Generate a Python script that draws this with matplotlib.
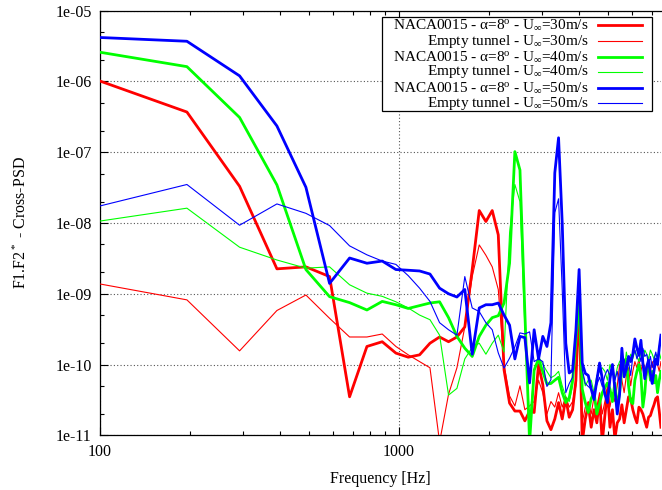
import matplotlib
matplotlib.use("Agg")
import matplotlib.pyplot as plt
from matplotlib.ticker import FixedLocator, FuncFormatter, NullFormatter
from matplotlib.patches import Rectangle

plt.rcParams["font.family"] = ["Liberation Serif", "DejaVu Serif"]
plt.rcParams["mathtext.fontset"] = "custom"
plt.rcParams["mathtext.rm"] = "Liberation Serif"
plt.rcParams["mathtext.it"] = "Liberation Serif:italic"

# FFT bins (Hz)
freq = [97.7, 195.3, 293.0, 390.6, 488.3, 585.9, 683.6, 781.3, 878.9, 976.6,
        1074.2, 1171.9, 1269.5, 1367.2, 1464.8, 1562.5, 1660.2, 1757.8, 1855.5, 1953.1,
        2050.8, 2148.4, 2246.1, 2343.8, 2441.4, 2539.1, 2636.7, 2734.4, 2832.0, 2929.7,
        3027.3, 3125.0, 3222.7, 3320.3, 3418.0, 3515.6, 3613.3, 3710.9, 3808.6, 3906.3,
        4003.9, 4101.6, 4199.2, 4296.9, 4394.5, 4492.2, 4589.8, 4687.5, 4785.2, 4882.8,
        4980.5, 5078.1, 5175.8, 5273.4, 5371.1, 5468.8, 5566.4, 5664.1, 5761.7, 5859.4,
        5957.0, 6054.7, 6152.3, 6250.0, 6347.7, 6445.3, 6543.0, 6640.6, 6738.3, 6835.9,
        6933.6, 7031.3, 7128.9, 7226.6, 7324.2, 7421.9, 7519.5]

naca30 = [1.05e-6, 3.7e-7, 3.3e-8, 2.25e-9, 2.4e-9, 1.75e-9, 3.5e-11, 1.8e-10, 2.1e-10, 1.45e-10,
          1.27e-10, 1.37e-10, 2.0e-10, 2.45e-10, 2.1e-10, 2.45e-10, 3.4e-10, 2.2e-9, 1.5e-8, 1.05e-8,
          1.5e-8, 6.8e-9, 8.4e-11, 2.85e-11, 2.2e-11, 2.2e-11, 1.6e-11, 2.2e-11, 2.1e-11, 1.0e-10,
          5.2e-11, 1.6e-11, 1.2e-11, 1.7e-11, 2.9e-11, 1.7e-11, 3.3e-11, 1.8e-11, 2.3e-11, 6e-11,
          8.3e-10, 8e-12, 1.7e-11, 2.7e-11, 1.3e-11, 2.3e-11, 1.5e-11, 3.3e-11, 8e-12, 1.9e-11,
          4.3e-11, 1.3e-11, 2.3e-11, 9e-12, 1.5e-11, 1.7e-11, 2.7e-11, 1.5e-11, 2.3e-11, 3.5e-11,
          3.3e-11, 2.3e-11, 1.8e-11, 1.5e-11, 2.5e-11, 2.3e-11, 2.0e-11, 1.6e-11, 1.3e-11, 1.8e-11,
          1.9e-11, 2.3e-11, 2.7e-11, 3.3e-11, 3.5e-11, 2.2e-11, 1.3e-11]
empty30 = [1.4e-9, 8.2e-10, 1.56e-10, 5.8e-10, 9.6e-10, 4.5e-10, 2.45e-10, 2.45e-10, 2.7e-10, 1.8e-10,
           1.37e-10, 1.1e-10, 9e-11, 8e-12, 3.8e-11, 9e-11, 3.4e-10, 1.75e-9, 4.9e-9, 3.5e-9,
           2.4e-9, 1.15e-9, 1.0e-10, 3.6e-11, 2.6e-11, 5.0e-11, 2.3e-11, 2.6e-11, 3e-11, 6e-11,
           4e-11, 2e-11, 3e-11, 2.5e-11, 4e-11, 2.5e-11, 3.5e-11, 2.5e-11, 3e-11, 5e-11,
           7e-10, 1.5e-11, 2.5e-11, 3e-11, 2e-11, 3.5e-11, 2.5e-11, 4e-11, 2e-11, 3e-11,
           5e-11, 2.5e-11, 4e-11, 3e-11, 5e-11, 1e-10, 6e-11, 4e-11, 7e-11, 9e-11,
           5e-11, 8e-11, 1.1e-10, 9e-11, 1.2e-10, 8e-11, 1.1e-10, 9e-11, 7e-11, 1e-10,
           8e-11, 1.1e-10, 9e-11, 1.2e-10, 1e-10, 8e-11, 1.1e-10]
naca40 = [2.63e-6, 1.62e-6, 3.1e-7, 3.45e-8, 2.2e-9, 9.1e-10, 7.5e-10, 5.9e-10, 7.8e-10, 7e-10,
          6.2e-10, 6.8e-10, 7.4e-10, 7.7e-10, 4.6e-10, 2.5e-10, 1.7e-10, 1.3e-10, 2.5e-10, 3.6e-10,
          4.6e-10, 4.9e-10, 7.4e-10, 2.7e-9, 1.02e-7, 5.6e-8, 5.4e-10, 8e-12, 8.3e-11, 1.2e-10,
          7.9e-11, 5.3e-11, 5.4e-11, 6e-11, 6.6e-11, 4e-11, 2.9e-11, 3.4e-11, 6e-11, 2.2e-10,
          9.1e-10, 4.5e-11, 2.9e-11, 2.1e-11, 3.3e-11, 4e-11, 2e-11, 2.8e-11, 4e-11, 4.7e-11,
          5.5e-11, 4.5e-11, 3e-11, 5.5e-11, 2.5e-11, 4e-11, 9e-11, 1.1e-10, 1.2e-10, 5e-11,
          3e-11, 2.8e-11, 6e-11, 8e-11, 1e-10, 7e-11, 2.5e-11, 4e-11, 9e-11, 1e-10,
          6e-11, 8e-11, 5.5e-11, 7e-11, 4e-11, 6e-11, 8e-11]
empty40 = [1.05e-8, 1.62e-8, 4.55e-9, 3.0e-9, 2.3e-9, 2.4e-9, 1.34e-9, 1.02e-9, 9.2e-10, 7.7e-10,
           6.3e-10, 5e-10, 4.3e-10, 2.6e-10, 3.7e-11, 4.6e-11, 1.2e-10, 1.75e-10, 2.0e-10, 1.4e-10,
           2e-10, 2.6e-10, 1.5e-10, 7.2e-9, 3.5e-8, 2e-8, 3.4e-10, 1.5e-11, 8e-11, 1.3e-10,
           1.0e-10, 8e-11, 6.5e-11, 7e-11, 8e-11, 5e-11, 3.5e-11, 3e-11, 5e-11, 2.5e-10,
           1.0e-9, 8e-11, 5e-11, 6e-11, 6e-11, 4e-11, 7e-11, 8e-11, 9e-11, 8e-11,
           6e-11, 1e-10, 8e-11, 6e-11, 9e-11, 1.1e-10, 1.2e-10, 8e-11, 1.5e-10, 1e-10,
           1.4e-10, 1.2e-10, 1.6e-10, 1.3e-10, 1.1e-10, 1.5e-10, 1.2e-10, 1.6e-10, 1.4e-10, 1.2e-10,
           1.6e-10, 1.4e-10, 1.2e-10, 1.4e-10, 1.3e-10, 1.5e-10, 1.2e-10]
naca50 = [4.2e-6, 3.7e-6, 1.2e-6, 2.35e-7, 3.2e-8, 1.4e-9, 3.2e-9, 2.7e-9, 2.9e-9, 2.2e-9,
          2.15e-9, 2.1e-9, 1.9e-9, 1.2e-9, 1.0e-9, 9.0e-10, 1.15e-9, 1.4e-10, 6.3e-10, 7.0e-10,
          7.0e-10, 7.4e-10, 5.0e-10, 3.6e-10, 1.2e-10, 2.5e-10, 2.4e-10, 5.5e-11, 3.1e-10, 1.2e-10,
          2.5e-10, 1.8e-10, 3.9e-10, 5.1e-8, 1.6e-7, 1.0e-8, 2.0e-10, 7.6e-11, 8.3e-11, 3.0e-10,
          2.2e-9, 1.05e-10, 7.5e-11, 7.0e-11, 4.5e-11, 3.2e-11, 6e-11, 1.05e-10, 6.3e-11, 3.8e-11,
          2.9e-11, 6.3e-11, 1.0e-10, 4.6e-11, 2.0e-11, 3.8e-11, 1.7e-10, 6.7e-11, 8.7e-11, 1.3e-10,
          1.1e-10, 1.4e-10, 2.3e-10, 1.7e-10, 1.35e-10, 2.2e-10, 1.05e-10, 6.3e-11, 9.4e-11, 1.15e-10,
          7.4e-11, 5.4e-11, 8.2e-11, 1.2e-10, 1.0e-10, 1.7e-10, 2.6e-10]
empty50 = [1.7e-8, 3.5e-8, 9.3e-9, 1.86e-8, 1.37e-8, 9.2e-9, 4.75e-9, 3.55e-9, 2.9e-9, 2.6e-9,
           1.8e-9, 1.2e-9, 7.8e-10, 3.9e-10, 3.1e-10, 2.6e-10, 1.75e-9, 6.3e-10, 5.6e-10, 3.9e-10,
           3.1e-10, 1.46e-10, 8.9e-11, 1.23e-10, 1.78e-10, 2.8e-10, 2.7e-10, 2.9e-10, 1.1e-10, 1.2e-10,
           1.1e-10, 4.9e-11, 6.1e-11, 1.4e-8, 2.2e-8, 1.15e-9, 4e-11, 5.4e-11, 6.6e-11, 3.1e-10,
           1.6e-9, 8.5e-11, 5.4e-11, 4.9e-11, 4.5e-11, 4e-11, 5.2e-11, 6.6e-11, 4.9e-11, 7e-11,
           8.5e-11, 7e-11, 1.0e-10, 6e-11, 8e-11, 5e-11, 9e-11, 1.2e-10, 8e-11, 1.1e-10,
           7e-11, 1.3e-10, 1.6e-10, 1.2e-10, 1.5e-10, 1.1e-10, 1.7e-10, 1.3e-10, 1.4e-10, 1.0e-10,
           1.3e-10, 9e-11, 1.2e-10, 1.5e-10, 1.1e-10, 1.8e-10, 2.5e-10]

labels = ["NACA0015 - $\\mathrm{\\alpha}$=8$^\\mathrm{o}$ - U$_\\mathrm{\\infty}$=30m/s",
          "Empty tunnel - U$_\\mathrm{\\infty}$=30m/s",
          "NACA0015 - $\\mathrm{\\alpha}$=8$^\\mathrm{o}$ - U$_\\mathrm{\\infty}$=40m/s",
          "Empty tunnel - U$_\\mathrm{\\infty}$=40m/s",
          "NACA0015 - $\\mathrm{\\alpha}$=8$^\\mathrm{o}$ - U$_\\mathrm{\\infty}$=50m/s",
          "Empty tunnel - U$_\\mathrm{\\infty}$=50m/s"]
series = [naca30, empty30, naca40, empty40, naca50, empty50]
colors = ["#ff0000", "#ff0000", "#00ff00", "#00ff00", "#0000ff", "#0000ff"]
widths = [2.0, 0.8, 2.0, 0.8, 2.0, 0.8]

W, H = 662, 490
fig = plt.figure(figsize=(W / 100, H / 100), dpi=100)
x0, x1, yt, yb = 100, 660.6, 10.7, 435.3
ax = fig.add_axes([x0 / W, 1 - yb / H, (x1 - x0) / W, (yb - yt) / H])

for y, c, lw in zip(series, colors, widths):
    ax.plot(freq, y, color=c, lw=lw, zorder=3)

ax.set_xscale("log")
ax.set_yscale("log")
ax.set_xlim(100, 7500)
ax.set_ylim(1e-11, 1e-5)

ax.yaxis.set_major_locator(FixedLocator([10.0 ** e for e in range(-11, -4)]))
ax.yaxis.set_major_formatter(FuncFormatter(lambda v, p: f"{v:.0e}"))
ax.yaxis.set_minor_locator(FixedLocator([m * 10.0 ** e for e in range(-11, -5) for m in (2, 5)]))
ax.yaxis.set_minor_formatter(NullFormatter())
ax.xaxis.set_major_locator(FixedLocator([100, 1000]))
ax.xaxis.set_major_formatter(FuncFormatter(lambda v, p: f"{v:.0f}"))
ax.xaxis.set_minor_locator(FixedLocator([m * 10.0 ** e for e in (2, 3) for m in range(2, 10)]))
ax.xaxis.set_minor_formatter(NullFormatter())

ax.tick_params(which="both", direction="in", top=True, right=False, labelsize=11.5, pad=6)
ax.tick_params(which="major", length=6, width=0.8)
ax.tick_params(which="minor", length=3, width=0.8)
ax.grid(True, which="major", color="#555555", linestyle=(0, (1, 2)), linewidth=0.8, zorder=1)
for s in ax.spines.values():
    s.set_linewidth(0.9)
ax.spines["right"].set_visible(False)

ax.set_xlabel("Frequency [Hz]", fontsize=11.5, labelpad=8)
ax.set_ylabel("F1.F2$^*$ - Cross-PSD", fontsize=11.5, labelpad=18)

# key box, drawn in figure pixels like gnuplot's key
def fx(px):
    return px / W

def fy(py):
    return 1 - py / H

fig.patches.append(Rectangle((fx(381.7), fy(110.7)), fx(651.7) - fx(381.7), fy(17.3) - fy(110.7),
                             transform=fig.transFigure, fill=True, facecolor="white",
                             edgecolor="black", linewidth=0.9, zorder=5))
row_y = [25.0, 41.3, 56.7, 71.7, 87.7, 103.3]
for ry, lab, c, lw in zip(row_y, labels, colors, widths):
    fig.text(fx(588.3), fy(ry), lab, ha="right", va="center", fontsize=11, zorder=6)
    fig.add_artist(plt.Line2D([fx(598.3), fx(641.7)], [fy(ry), fy(ry)], color=c, lw=lw,
                              transform=fig.transFigure, zorder=6))

fig.savefig("out.png", dpi=100)
